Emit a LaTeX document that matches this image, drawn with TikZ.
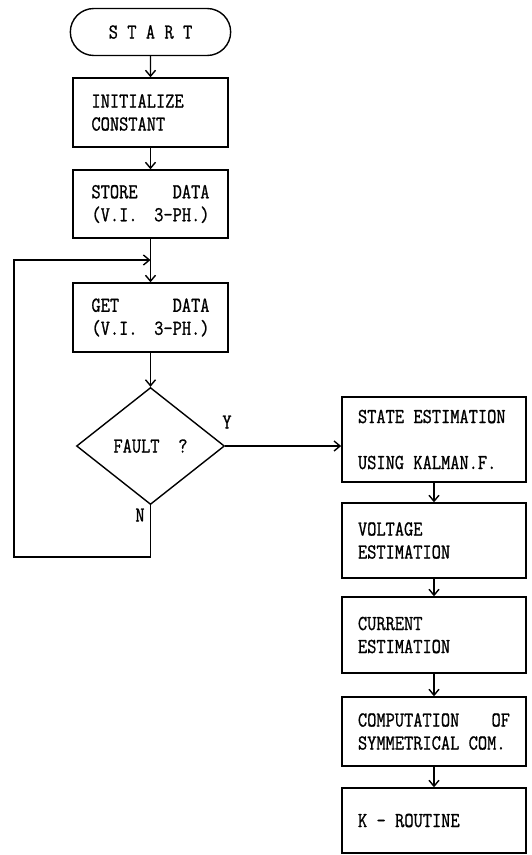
\documentclass[tikz,border=0pt]{standalone}
\usepackage{fontspec}
\setmonofont[FakeStretch=0.84, FakeBold=1]{Latin Modern Mono}
\usetikzlibrary{arrows.meta,shapes.geometric,shapes.misc}

% one character cell of the mono font
\newcommand\blank{\hspace{0.44em}}

\tikzset{
    txt/.style={font=\ttfamily\fontsize{21.3}{23}\selectfont},
    stepbox/.style={txt, draw, line width=1.4pt, align=left, inner xsep=0pt,
        minimum width=155pt, text width=118pt},
    calcbox/.style={stepbox, minimum width=184pt, text width=152pt},
    flow/.style={line width=1.4pt, -{Straight Barb[length=6pt,width=10pt]}},
}

\begin{document}
\begin{tikzpicture}[x=1pt, y=-1pt]
    \useasboundingbox (0,0) rectangle (531,855);

    % main column
    \node[txt, draw, line width=1.4pt, rounded rectangle, minimum width=167pt,
        minimum height=47pt] (start) at (150.5,32)
        {S\blank T\blank A\blank R\blank T};
    \node[stepbox, minimum height=69pt] (init) at (150.5,112.5)
        {INITIALIZE\\CONSTANT};
    \node[stepbox, minimum height=68pt] (store) at (150.5,204)
        {STORE\hfill DATA\\(V.I.\hfill 3-PH.)};
    \node[stepbox, minimum height=69pt] (get) at (150.5,317.5)
        {GET\hfill DATA\\(V.I.\hfill 3-PH.)};
    \node[txt, draw, line width=1.4pt, diamond, aspect=1.26, inner sep=0pt,
        minimum width=148pt, minimum height=117pt] (fault) at (150.5,446)
        {FAULT\blank\blank ?};
    \node[txt] at (227,422) {Y};
    \node[txt] at (140,515) {N};

    % estimation column
    \node[calcbox, minimum height=85pt, line width=1.7pt] (state) at (434,439.5)
        {STATE\blank ESTIMATION\\[23pt]USING\blank KALMAN.F.};
    \node[calcbox, minimum height=75pt] (volt) at (434,540.5)
        {VOLTAGE\\ESTIMATION};
    \node[calcbox, minimum height=76pt] (curr) at (434,635)
        {CURRENT\\ESTIMATION};
    \node[calcbox, minimum height=69pt] (comp) at (434,731.5)
        {COMPUTATION\hfill OF\\SYMMETRICAL\blank COM.};
    \node[calcbox, minimum height=65pt] (krout) at (434,820.5)
        {K\blank -\blank ROUTINE};

    \coordinate (join) at (150.5,260);
    \coordinate (loopr) at (150.5,557);
    \coordinate (loopl) at (14,557);

    \draw[flow] (start) -- (init);
    \draw[flow] (init) -- (store);
    \draw[flow] (store) -- (get);
    \draw[flow] (get) -- (fault);
    \draw[flow] (fault.south) -- (loopr) -- (loopl) |- (join);
    \draw[flow] (fault.east) -- (state.west |- fault.east);
    \draw[flow] (state) -- (volt);
    \draw[flow] (volt) -- (curr);
    \draw[flow] (curr) -- (comp);
    \draw[flow] (comp) -- (krout);
\end{tikzpicture}
\end{document}
